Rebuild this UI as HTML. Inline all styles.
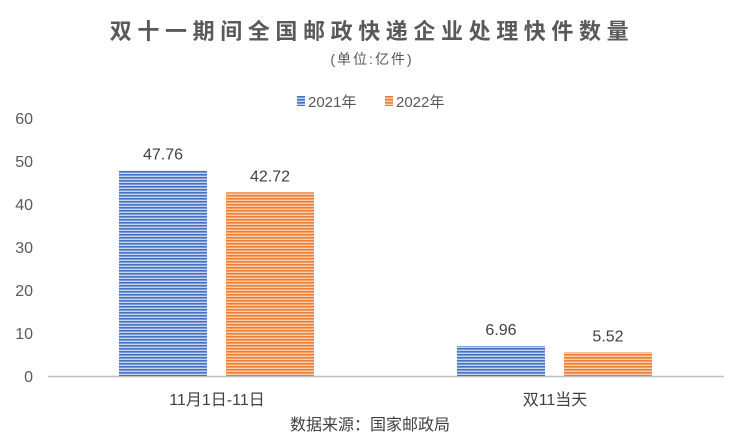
<!DOCTYPE html>
<html><head><meta charset="utf-8"><style>
body{margin:0;background:#fff;}
svg text{font-family:"Liberation Sans","Noto Sans CJK SC",sans-serif;}
</style></head><body>
<svg width="741" height="442" viewBox="0 0 741 442" xmlns="http://www.w3.org/2000/svg">
<defs>
<pattern id="pb" width="4" height="3" patternUnits="userSpaceOnUse"><rect width="4" height="3" fill="#c5d3ee"/><rect width="4" height="1.6" fill="#4472c4"/></pattern>
<pattern id="po" width="4" height="3" patternUnits="userSpaceOnUse"><rect width="4" height="3" fill="#f9cfb2"/><rect width="4" height="1.6" fill="#ed7d31"/></pattern>
</defs>
<text x="372" y="39" text-anchor="middle" font-size="22" font-weight="bold" fill="#595959" letter-spacing="5.6">双十一期间全国邮政快递企业处理快件数量</text>
<text x="372" y="64" text-anchor="middle" font-size="14" fill="#595959" letter-spacing="2">(单位:亿件)</text>
<g>
<g><rect x="297" y="96" width="8" height="10" fill="url(#pb)"/><text x="308" y="107" font-size="15" fill="#595959">2021年</text></g>
<g><rect x="385" y="96" width="8" height="10" fill="url(#po)"/><text x="396" y="107" font-size="15" fill="#595959">2022年</text></g>
</g>
<g id="yaxis"></g>
<line x1="48" y1="376.5" x2="724" y2="376.5" stroke="#bfbfbf" stroke-width="1.5"/>
<g id="bars"></g>
<text x="370" y="430" text-anchor="middle" font-size="16" fill="#404040">数据来源：国家邮政局</text>
</svg>
<script>
const categories=["11月1日-11日","双11当天"];
const series2021=[47.76,6.96];
const series2022=[42.72,5.52];
const yTicks=[0,10,20,30,40,50,60];
const NS="http://www.w3.org/2000/svg";
const y=v=>376-v*(258/60);
const groupX=i=>48+338*(i+0.5);
const ya=document.getElementById('yaxis');
yTicks.forEach(t=>{const e=document.createElementNS(NS,'text');


e.setAttribute('x',33);e.setAttribute('y',y(t)+6);e.setAttribute('text-anchor','end');e.setAttribute('font-size','16');e.setAttribute('fill','#595959');e.textContent=t;ya.appendChild(e);});
const g=document.getElementById('bars');
function bar(v,x,fill,name){const r=document.createElementNS(NS,'rect');


r.setAttribute('x',x);r.setAttribute('y',y(v));r.setAttribute('width',88);r.setAttribute('height',376-y(v));r.setAttribute('fill',fill);g.appendChild(r);
const t=document.createElementNS(NS,'text');


t.setAttribute('x',x+44);t.setAttribute('y',y(v)-11);t.setAttribute('text-anchor','middle');t.setAttribute('font-size','16');t.setAttribute('fill','#404040');t.textContent=v.toFixed(2);g.appendChild(t);}
categories.forEach((c,i)=>{const cx=groupX(i);
bar(series2021[i],cx-98,'url(#pb)','bar-2021');
bar(series2022[i],cx+9,'url(#po)','bar-2022');
const t=document.createElementNS(NS,'text');


t.setAttribute('x',cx);t.setAttribute('y',405);t.setAttribute('text-anchor','middle');t.setAttribute('font-size','16');t.setAttribute('fill','#404040');t.textContent=c;g.appendChild(t);});
</script>
</body></html>
